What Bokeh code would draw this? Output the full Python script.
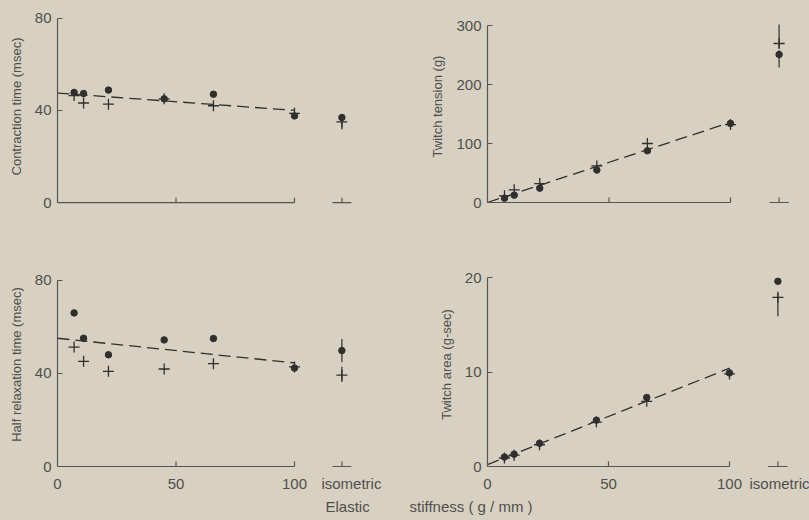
from bokeh.plotting import figure
from bokeh.layouts import column, row
from bokeh.models import FixedTicker, Range1d, Title
from bokeh.embed import file_html
from bokeh.resources import INLINE

# ---------------- data ----------------
stiffness = [7, 11, 21.5, 45, 65.8, 100]
iso_x = 120
fit_x = [0, 100]
x_tick_vals = [0, 50, 100]
iso_label = "isometric"

contraction_dot = [47.8, 47.3, 48.8, 45.0, 47.0, 37.6]
contraction_cross = [46.4, 43.2, 42.7, 45.0, 42.0, 38.7]
contraction_iso_dot = [36.9]
contraction_iso_cross = [35.0]
contraction_iso_cross_err = [31.7, 36.6]
contraction_iso_dot_err = [36.9, 36.9]
contraction_fit = [47.5, 40.0]
contraction_ticks = [0, 40, 80]

tension_dot = [7.4, 12.5, 24.3, 55.0, 87.7, 134.0]
tension_cross = [11.3, 21.5, 32.0, 62.0, 100.0, 132.0]
tension_iso_dot = [250.8]
tension_iso_cross = [269.5]
tension_iso_cross_err = [262.0, 301.7]
tension_iso_dot_err = [228.8, 258.0]
tension_fit = [0.0, 136.0]
tension_ticks = [0, 100, 200, 300]

relax_dot = [66.0, 55.1, 48.0, 54.4, 55.0, 42.3]
relax_cross = [51.3, 45.2, 40.9, 41.9, 44.2, 42.8]
relax_iso_dot = [49.8]
relax_iso_cross = [39.3]
relax_iso_cross_err = [36.3, 42.9]
relax_iso_dot_err = [44.8, 54.8]
relax_fit = [55.1, 44.5]
relax_ticks = [0, 40, 80]

area_dot = [1.0, 1.3, 2.45, 4.9, 7.3, 9.9]
area_cross = [0.9, 1.2, 2.3, 4.7, 6.9, 9.8]
area_iso_dot = [19.6]
area_iso_cross = [17.9]
area_iso_cross_err = [15.9, 18.3]
area_iso_dot_err = [19.6, 19.6]
area_fit = [0.2, 10.4]
area_ticks = [0, 10, 20]

x_title_left = "Elastic"
x_title_right = "stiffness  ( g / mm )"

# ---------------- style ----------------
BG = "#d8d1c1"
INK = "#2f2f2f"
AXC = "#555555"
TXT = "#4f4f4f"
FONT = "Liberation Sans"
ISO_SEG = (116, 124)


def panel(W, H, l, r, b, t, ppx, ppy, ytop, ylabel, ticks,
          dot, cross, iso_dot, iso_cross, iso_cross_err, iso_dot_err, fit,
          show_xlabels):
    frame_w = W - l - r
    frame_h = H - t - b
    x0 = 0.0
    x1 = frame_w / ppx
    y0 = -2.0 / ppy
    y1 = y0 + frame_h / ppy
    p = figure(width=W, height=H, x_range=Range1d(x0, x1), y_range=Range1d(y0, y1),
               output_backend="svg", toolbar_location=None,
               min_border_left=l, min_border_right=r, min_border_top=t, min_border_bottom=b,
               background_fill_color=BG, border_fill_color=BG, outline_line_color=None)
    p.grid.visible = False
    # y axis
    ya = p.yaxis[0]
    ya.ticker = FixedTicker(ticks=ticks)
    ya.bounds = (0, ytop)
    ya.axis_line_color = AXC
    ya.axis_line_width = 1.2
    ya.major_tick_in = 5
    ya.major_tick_out = 0
    ya.major_tick_line_color = AXC
    ya.minor_tick_line_color = None
    ya.major_label_text_font = FONT
    ya.major_label_text_font_size = "15px"
    ya.major_label_text_color = TXT
    ya.major_label_standoff = 6
    ya.axis_label = ylabel
    ya.axis_label_text_font = FONT
    ya.axis_label_text_font_size = "13px"
    ya.axis_label_text_font_style = "normal"
    ya.axis_label_text_color = TXT
    ya.axis_label_standoff = 8
    # x axis
    xa = p.xaxis[0]
    if show_xlabels:
        iso_lab_x = iso_x + 4
        xa.ticker = FixedTicker(ticks=x_tick_vals + [iso_lab_x])
        xa.major_label_overrides = {iso_lab_x: iso_label}
        xa.axis_line_color = None
        xa.major_tick_line_color = None
        xa.minor_tick_line_color = None
        xa.major_tick_in = 0
        xa.major_tick_out = 0
        xa.major_label_standoff = 6
        xa.major_label_text_font = FONT
        xa.major_label_text_font_size = "15px"
        xa.major_label_text_color = TXT
    else:
        xa.visible = False
    # x axis line drawn as two pieces + upward ticks
    p.segment(x0=[0, ISO_SEG[0]], y0=[0, 0], x1=[100, ISO_SEG[1]], y1=[0, 0],
              line_color=AXC, line_width=1.2)
    tl = 5.0 / ppy
    tx = [v for v in x_tick_vals if v > 0] + [iso_x]
    p.segment(x0=tx, y0=[0] * len(tx), x1=tx, y1=[tl] * len(tx),
              line_color=AXC, line_width=1.2)
    # fit line
    p.line(fit_x, fit, line_color=INK, line_width=1.3, line_dash="12 6")
    # isometric error bars
    p.segment(x0=[iso_x, iso_x], y0=[iso_cross_err[0], iso_dot_err[0]],
              x1=[iso_x, iso_x], y1=[iso_cross_err[1], iso_dot_err[1]],
              line_color=INK, line_width=1.2)
    # points
    p.scatter(stiffness + [iso_x], cross + iso_cross, marker="cross", size=11,
              line_color=INK, line_width=1.3)
    p.scatter(stiffness + [iso_x], dot + iso_dot, marker="circle", size=6.5,
              fill_color=INK, line_color=INK)
    return p


p_tl = panel(400, 230, 57, 5, 19, 8, 2.37, 2.3875, 80, "Contraction time (msec)",
             contraction_ticks, contraction_dot, contraction_cross, contraction_iso_dot,
             contraction_iso_cross, contraction_iso_cross_err, contraction_iso_dot_err,
             contraction_fit, False)
p_tr = panel(409, 230, 87, 0, 26, 8, 2.43, 0.59, 300, "Twitch tension (g)",
             tension_ticks, tension_dot, tension_cross, tension_iso_dot,
             tension_iso_cross, tension_iso_cross_err, tension_iso_dot_err,
             tension_fit, False)
p_bl = panel(400, 290, 57, 5, 50, 30, 2.37, 2.35, 80, "Half relaxation time (msec)",
             relax_ticks, relax_dot, relax_cross, relax_iso_dot,
             relax_iso_cross, relax_iso_cross_err, relax_iso_dot_err,
             relax_fit, True)
p_br = panel(409, 290, 87, 0, 52, 30, 2.42, 9.45, 20, "Twitch area (g-sec)",
             area_ticks, area_dot, area_cross, area_iso_dot,
             area_iso_cross, area_iso_cross_err, area_iso_dot_err,
             area_fit, True)

# shared x-axis title, split over the two bottom panels
p_bl.add_layout(Title(text=x_title_left, align="left", offset=268, text_font=FONT,
                      text_font_size="15px", text_font_style="normal", text_color=TXT,
                      standoff=2), "below")
p_br.add_layout(Title(text=x_title_right, align="left", offset=-78, text_font=FONT,
                      text_font_size="15px", text_font_style="normal", text_color=TXT,
                      standoff=2), "below")

layout = column(row(p_tl, p_tr), row(p_bl, p_br))
html = file_html(layout, INLINE)
html = html.replace("<body>", '<body style="margin:0;background:%s">' % BG)
open("out.html", "w").write(html)
